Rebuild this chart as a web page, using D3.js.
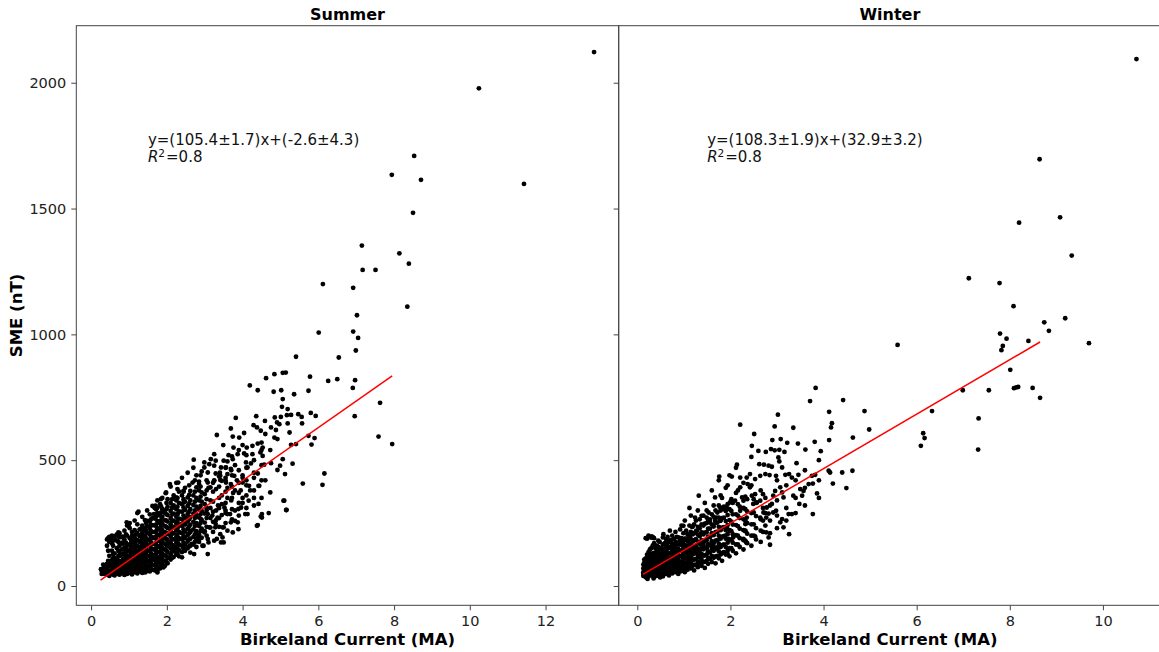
<!DOCTYPE html>
<html>
<head>
<meta charset="utf-8">
<script src="https://cdnjs.cloudflare.com/ajax/libs/d3/7.8.5/d3.min.js"></script>
<style>
body { margin: 0; background: #fff; }
text { font-family: "DejaVu Sans", sans-serif; }
</style>
</head>
<body>
<div id="chart"></div>
<script>
// ---- data ----
const seasons = ["Summer", "Winter"];

// scattered points [current (MA), SME (nT)]
const summerScatter = [
  [13.28,2122],[10.24,1978],[11.43,1598],[8.53,1709],[8.71,1614],[7.94,1634],[8.50,1483],[8.14,1322],[8.39,1281],[7.15,1353],
  [7.17,1256],[7.51,1256],[6.92,1185],[6.12,1200],[8.35,1110],[7.02,1076],[6.92,1011],[7.05,986],[6.99,936],[6.54,908],
  [6.50,822],[6.97,818],[6.91,787],[7.63,728],[6.96,675],[7.59,594],[7.95,564],
  [6.01,1007],[5.41,911],[4.62,826],[4.84,842],[5.06,847],[5.14,848],[5.78,832],[6.26,815],[4.19,797],[4.40,778],[4.82,772],
  [5.02,778],[5.36,762],[5.74,776],[5.06,743],[5.04,712],[5.19,703],[3.82,668],[4.36,675],[4.59,656],[4.85,670],[5.01,672],
  [5.17,679],[5.28,680],[5.47,683],[5.56,672],[5.80,688],[5.93,676],[3.69,626],[4.29,639],[4.38,630],[4.75,630],[4.91,650],
  [4.97,643],[5.19,646],[5.57,646],[3.32,600],[3.74,594],[3.91,590],[4.04,608],[4.48,617],[4.60,604],[4.88,620],[4.84,590],
  [4.92,584],[5.24,610],[5.74,597],[5.90,588],[5.41,564],[5.82,562],[3.49,560],[3.76,550],[4.00,560],[4.11,550],[4.26,557],
  [4.40,566],[4.50,570],[4.53,550],[5.28,561],[3.25,524],[3.63,520],[3.87,524],[4.04,527],[4.26,524],[4.47,531],[4.53,517],
  [4.73,540],[2.71,502],[2.99,491],[3.16,504],[3.29,498],[3.50,498],[3.74,504],[4.09,491],[4.22,487],[4.57,482],[4.75,488],
  [4.99,478],[5.06,504],[5.32,486],[2.99,471],[3.12,484],[3.25,478],[3.43,471],[3.56,471],[3.69,465],[4.13,471],[4.40,447],
  [4.92,461],[5.12,445],[3.08,451],[3.29,447],[3.41,438],[3.60,445],[3.78,438],[6.16,447],[5.59,407],[6.11,402],[2.68,411],
  [2.85,405],[3.08,411],[3.25,418],[3.41,421],[3.56,411],[3.69,405],[4.00,411],[4.17,398],[4.44,398],
  [4.40,242],[4.69,290],[4.48,276],[5.16,302],[5.10,339],[4.13,286],[3.96,312],[3.87,253],[3.69,253],[3.74,213],[3.47,193],
  [3.43,173],[3.25,180],[3.08,187],[2.94,160],[3.47,233],[3.60,286],[3.52,312],[3.34,272],[3.29,246],[3.12,233],[2.99,213],
  [2.81,193],[2.77,246],[2.90,266],[3.08,286],[2.72,286],[2.63,220],[2.46,193],[2.28,180],[2.19,153],[2.02,167],[1.84,140],
  [1.66,114],[1.58,87],[1.75,61],[2.72,127],[3.08,127],[2.44,332],[2.08,405],[2.30,411],[1.98,372],[2.24,352],[2.44,378],
  [1.84,345],[1.71,312],[1.66,286],[1.93,299],[2.15,312],[2.28,286],[2.50,272],[1.49,259],[1.84,246],[2.11,233],[2.37,246],
  [1.40,220],[1.66,193],[1.93,193],[1.45,173],[1.31,140],
  [1.97,369],[1.70,319],[1.74,310],[1.25,295],[0.94,253],[0.99,239],[0.72,213],[0.26,67],[0.33,54],[1.43,54],[1.75,54],
  [1.87,100],[1.91,74],[2.09,114],[2.26,133],[2.44,153],[2.62,133],[2.40,114],[2.66,167],[2.97,160],[3.10,173],[3.32,187],
  [3.50,173],[3.41,206],[3.28,233],[3.50,233],[3.89,226],[3.80,259],[3.67,286],[4.07,286],[3.89,306],[4.16,339],[4.38,239],
  [4.51,272],[4.51,286],[4.73,372],[4.42,326],[4.42,398],[5.08,339],[5.15,302],
  [3.05,300],[3.15,340],[3.20,280],[3.35,320],[3.45,360],[3.55,300],[3.60,390],[3.70,340],[3.75,370],[3.95,380],[4.00,350],
  [4.10,400],[4.20,380],[4.30,350],[3.10,390],[3.25,420],[3.40,450],[3.55,430],[3.70,460],[3.85,420],[4.00,440],[4.30,430],[4.60,420]
];

// dense core, one current value with the SME values stacked on it
const summerColumns = [
  [0.28,[60,48]],[0.35,[48,62,75,58]],[0.42,[45,70,88,52,160,185]],[0.48,[40,58,80,96,120,175,195]],
  [0.55,[50,66,84,102,140,190,200,170]],[0.62,[42,60,78,95,112,130,188,198]],[0.68,[55,70,88,105,150,180,205]],
  [0.75,[45,62,80,98,118,135,160,193,210]],[0.82,[50,68,86,100,125,145,172,196]],[0.88,[44,60,76,92,110,130,150,185,220]],
  [0.95,[48,65,82,100,118,138,160,200,240]],[1.02,[52,70,88,105,122,142,165,190,230,250]],
  [1.08,[46,62,80,96,115,135,155,178,200,215]],[1.15,[55,72,90,108,126,148,170,192,222,260]],
  [1.22,[50,66,84,102,120,140,160,182,210,245,290]],[1.28,[58,75,92,110,130,152,175,198,225]],
  [1.35,[52,70,88,106,124,145,168,190,212,240,275]],[1.42,[56,74,94,114,134,156,178,200,230,262]],
  [1.48,[60,80,100,120,140,162,185,210,238,300]],[1.55,[58,76,96,116,138,160,182,205,228,255,285]],
  [1.62,[65,85,105,125,146,168,190,215,242,270,318]],[1.68,[62,82,102,122,144,166,190,214,240,268,310]],
  [1.75,[75,95,115,136,158,180,204,230,258,290,340]],[1.82,[70,90,110,132,155,178,200,225,250,280,325]],
  [1.88,[88,108,130,152,175,198,222,248,275,305,350]],[1.95,[80,100,122,145,168,190,214,238,262,290]],
  [2.02,[90,112,135,158,182,206,230,256,282,315,345]],[2.10,[105,126,150,172,196,220,245,270,298,330,395]],
  [2.18,[115,138,160,185,210,235,260,288,320,360]],[2.25,[125,148,172,196,222,248,275,305,340,410]],
  [2.32,[118,142,165,190,215,240,268,296,330,375]],[2.40,[135,160,185,210,238,265,295,325,360,430]],
  [2.48,[140,165,190,216,244,272,302,335,390]],[2.55,[150,176,202,228,256,286,318,352,450]],
  [2.62,[160,188,215,244,274,305,340,378]],[2.70,[165,195,225,255,288,322,360,470]],
  [2.78,[155,185,218,250,282,315,350,392,440]],[2.85,[175,205,238,272,305,340,380,415]],
  [2.92,[192,228,262,298,335,372,455]],[3.00,[218,252,288,325,365]],[3.15,[232,270,310,392]],
  [3.30,[262,300,385]],[3.45,[282,325,418]],[3.60,[220,350,495]],[3.80,[300,380,480]],[4.00,[330,430]],
  [0.32,[70,85,52]],[0.45,[62,78,100,140,190]],[0.58,[45,58,74,92,110,125,160,180]],[0.72,[48,65,82,100,120,140,175,198]],
  [0.85,[55,72,90,108,128,148,168,192]],[0.92,[54,70,88,106,124,145,172,205]],
  [1.05,[60,78,96,113,132,150,170,185]],[1.18,[63,80,98,117,137,158,180,205]],[1.32,[62,80,98,116,135,157,180,202,228]],
  [1.45,[66,86,105,125,146,168,190,220,250]],[1.58,[68,88,108,128,150,172,195,218,240,265]],
  [1.72,[70,90,110,130,150,172,195,218,245,275,305]],[1.85,[80,100,122,142,165,188,212,238,262,292,315]],
  [1.99,[95,118,140,163,186,210,235,260,285,305,330]],[2.14,[112,138,162,186,208,232,258,284,312,345]],
  [2.28,[130,155,180,205,230,258,285,315,350,385]],[2.44,[148,172,198,225,252,280,312,345,375]],
  [2.59,[158,185,210,238,265,295,328,362,400]],[2.74,[175,205,238,270,300,335,375,420]],
  [2.89,[190,218,250,285,318,355,395,440]],[3.05,[200,235,270,310,345,380,420]],[3.22,[215,255,295,335,375,410]],
  [3.38,[235,270,310,350,395,435]],[3.55,[250,290,330,375,420,470]],[3.72,[265,305,350,395,440,515]],
  [3.90,[280,330,370,410,460,540]],[4.10,[310,360,420,470,520]],[4.30,[320,380,450,500]],[4.50,[350,420,480,540]]
];

const winterScatter = [
  [10.72,2094],[8.64,1696],[8.20,1444],[9.08,1465],[9.33,1313],[7.12,1223],[7.78,1204],[8.08,1112],[8.74,1048],[8.84,1014],
  [9.19,1064],[7.79,1003],[7.93,983],[8.40,974],[7.85,954],[7.82,937],[9.70,965],[5.59,958],[8.01,859],[6.99,778],[7.55,778],
  [8.09,786],[8.14,789],[8.18,791],[8.49,787],[8.65,748],[4.42,739],[4.12,692],[4.88,695],[6.33,695],[7.33,666],[7.32,542],
  [6.14,607],[6.17,588],[6.09,557],
  [3.83,787],[3.71,735],[3.02,681],[2.95,634],[3.35,629],[4.18,647],[4.16,630],[4.98,622],[4.12,580],[4.63,590],[3.81,573],
  [3.94,536],[3.61,542],[3.45,566],[3.22,569],[3.08,584],[2.90,580],[2.51,604],[2.46,557],[2.21,641],[2.95,539],[3.05,541],
  [3.16,533],[2.60,537],[2.76,533],[2.45,513],[2.87,544],[3.03,511],[3.05,495],[3.42,488],[3.26,445],[3.11,471],[3.18,442],
  [2.62,484],[2.72,482],[2.82,478],[2.89,474],[2.35,431],[2.42,445],[2.53,425],[2.37,405],[2.64,438],[2.75,445],[2.84,441],
  [2.98,438],[3.32,431],[3.46,442],[3.75,438],[3.82,442],[4.11,458],[4.14,451],[4.40,451],[4.62,458],[4.20,407],[4.49,389],
  [3.68,405],[3.77,407],[3.50,385],[3.57,378],[3.54,359],[3.86,368],[3.35,359],[3.48,326],[3.77,286],[3.07,392],[3.11,372],
  [3.14,352],[2.96,378],[2.92,359],[2.89,326],[2.98,299],[2.92,292],[3.11,266],[3.07,253],[3.25,286],[3.32,286],[3.14,233],
  [3.26,206],[2.78,312],[2.82,288],[2.77,272],[2.64,339],[2.57,332],[2.49,326],[2.71,292],[2.64,272],[2.77,213],[2.82,193],
  [2.85,164],[2.53,197],[2.32,220],[2.28,187],[2.34,173],[2.42,392],[2.46,359],[2.53,365],[2.25,352],[2.28,339],[2.21,392],
  [2.35,272],[2.32,246],[2.21,431],[2.21,299],
  [1.76,435],[2.03,435],[2.14,482],[1.32,359],[1.67,352],[1.12,310],[0.99,239],[1.17,235],[1.24,272],[1.38,279],[1.53,292],
  [1.49,272],[0.70,220],[0.56,206],[0.55,193],[0.24,200],[0.31,197],[0.34,193],[0.88,193],[0.92,180],[1.10,206],[1.13,193],
  [1.28,220],[1.38,213],[1.56,253],[1.67,259],[1.78,312],[1.85,306],[1.92,312],[1.99,332],[2.10,339],[1.70,272],[1.78,259],
  [1.92,233],[1.99,220],[1.89,200],[1.96,187],[2.06,193],[1.85,134],[1.94,127],[1.71,153],[1.63,160],[1.42,167],[1.49,153],
  [1.24,140],[1.35,127],[1.06,153],[1.13,127],[0.99,127],[0.85,127],[0.77,100],[0.92,94],[0.70,94],[0.63,74],[0.56,54],
  [0.49,34],[0.34,41],[0.20,34],[0.13,48],[0.17,74],[0.27,100],[0.42,120],[0.56,140],[0.67,153],[0.77,160],[0.88,167],
  [0.22,28],[0.35,30]
];

const winterColumns = [
  [0.13,[40,55,70,85]],[0.18,[35,50,65,80,95,110,190]],[0.24,[38,52,68,84,100,118,135,195]],
  [0.30,[42,58,74,90,106,124,150,192]],[0.36,[36,50,66,82,98,114,132,170,190]],[0.42,[40,56,72,88,104,122,140,160]],
  [0.48,[45,60,76,92,108,126,146,175]],[0.55,[38,54,70,86,102,120,140,165]],[0.62,[48,64,80,96,114,134,155,185]],
  [0.68,[42,58,75,92,110,130,152,178]],[0.75,[50,66,84,102,122,144,168,200]],[0.82,[55,72,90,108,128,150,175,215]],
  [0.88,[48,65,84,104,125,148,172]],[0.95,[60,78,97,118,140,164,190,240]],[1.02,[55,74,94,115,138,162,188,260]],
  [1.08,[65,85,106,128,152,178,205]],[1.15,[70,90,112,135,160,186,215,280]],[1.22,[62,84,106,130,155,182,210,245]],
  [1.30,[75,98,122,148,175,204,235,300]],[1.38,[80,104,128,154,182,212,245]],[1.45,[72,96,122,150,180,212,248,330]],
  [1.52,[88,112,138,166,196,228,262]],[1.60,[95,120,148,178,210,244,285,380]],[1.68,[90,118,148,180,214,250,300]],
  [1.75,[110,138,168,200,235,272,320,420]],[1.82,[100,130,162,196,232,270,350]],[1.90,[125,155,188,222,258,298,390]],
  [1.98,[118,150,185,222,262,305,440]],[2.05,[140,172,206,244,285,330]],[2.12,[130,165,202,242,285,370,470]],
  [2.20,[155,190,228,270,315]],[2.28,[145,182,222,265,310,410]],[2.36,[170,208,250,296,345]],[2.45,[160,200,245,290,400]],
  [2.55,[185,230,278,330]],[2.65,[175,220,265,380]],[2.75,[240,290,350]],[2.85,[210,260,320]],[3.00,[230,280,340,420]],
  [3.20,[260,310,400]],[3.40,[290,350,420]],[3.60,[320,390,460]],[3.90,[350,420,500]],
  [0.15,[45,60,75,92,105]],[0.21,[42,58,74,90,108,125,188]],[0.27,[45,60,76,92,110,128,145]],
  [0.33,[48,63,80,96,112,130,160]],[0.39,[44,60,76,93,110,128,150]],[0.45,[50,66,82,98,116,134,155,180]],
  [0.52,[44,60,76,93,112,130,152]],[0.59,[52,68,84,102,122,145,170]],[0.65,[56,72,88,106,126,148,170,195]],
  [0.72,[55,72,90,110,132,156,182]],[0.79,[60,78,96,116,138,160,188]],[0.85,[62,80,100,120,142,165,195]],
  [0.92,[58,76,96,118,140,165,190,225]],[0.99,[68,88,108,130,152,178,210]],[1.05,[70,90,112,135,160,188,220]],
  [1.12,[75,96,118,142,168,196,240]],[1.19,[80,102,125,150,176,205,235]],[1.26,[85,108,132,158,186,218,260]],
  [1.34,[90,114,140,168,198,230,265]],[1.42,[95,120,146,175,205,240,280]],[1.49,[100,126,152,182,214,250,300]],
  [1.56,[108,134,162,194,228,265]],[1.64,[112,140,170,202,236,275,320]],[1.72,[120,150,182,216,252,292]],
  [1.79,[125,155,188,222,260,300,360]],[1.86,[135,165,198,234,272,315]],[1.94,[140,172,206,242,282,325,400]],
  [2.02,[150,182,218,256,298,345]],[2.16,[165,200,238,280,325,380]],[2.32,[180,218,260,305,355]],
  [2.50,[200,245,292,345]],[2.70,[215,260,310,365]]
];

// linear fits
const fitSlopes = [105.4, 108.3];
const fitIntercepts = [-2.6, 32.9];
const fitRanges = [[0.25, 7.95], [0.12, 8.65]];
const fitLabels = ["y=(105.4\u00b11.7)x+(-2.6\u00b14.3)", "y=(108.3\u00b11.9)x+(32.9\u00b13.2)"];
const r2Labels = ["0.8", "0.8"];
const labelAt = [[1.5, 1685], [1.5, 1685]];

// ticks
const xTicks = [[0, 2, 4, 6, 8, 10, 12], [0, 2, 4, 6, 8, 10]];
const yTicks = [0, 500, 1000, 1500, 2000];

// ---- layout ----
const width = 1159, height = 652;
const plotTop = 25.7, plotH = 579.6, plotW = 542.4;
const panelX = [76.3, 618.7];

const panels = [
  summerScatter.concat(summerColumns.flatMap(([x, ys]) => ys.map(y => [x, y]))),
  winterScatter.concat(winterColumns.flatMap(([x, ys]) => ys.map(y => [x, y])))
];

// matplotlib-like 5% margins
function padded(ext) {
  const p = (ext[1] - ext[0]) * 0.05;
  return [ext[0] - p, ext[1] + p];
}

const yScale = d3.scaleLinear()
  .domain(padded(d3.extent(panels.flat(), d => d[1])))
  .range([plotTop + plotH, plotTop]);

const svg = d3.select("#chart")
  .append("svg")
  .attr("width", width)
  .attr("height", height)
  .style("background", "#fff");

panels.forEach((pts, i) => {
  const x0 = panelX[i];
  const xScale = d3.scaleLinear()
    .domain(padded(d3.extent(pts, d => d[0])))
    .range([x0, x0 + plotW]);

  const g = svg.append("g");

  // points
  g.append("g")
    .selectAll("circle")
    .data(pts)
    .enter()
    .append("circle")
    .attr("cx", d => xScale(d[0]))
    .attr("cy", d => yScale(d[1]))
    .attr("r", 2.4)
    .attr("fill", "#000");

  // fit line
  const line = d3.line().x(d => xScale(d)).y(d => yScale(fitSlopes[i] * d + fitIntercepts[i]));
  g.append("path")
    .attr("d", line(fitRanges[i]))
    .attr("fill", "none")
    .attr("stroke", "red")
    .attr("stroke-width", 1.5);

  // spines
  g.append("rect")
    .attr("x", x0)
    .attr("y", plotTop)
    .attr("width", plotW)
    .attr("height", plotH)
    .attr("fill", "none")
    .attr("stroke", "#444")
    .attr("stroke-width", 1);

  // x axis
  const xa = g.append("g")
    .attr("transform", `translate(0,${plotTop + plotH})`)
    .call(d3.axisBottom(xScale).tickValues(xTicks[i]).tickFormat(d3.format("d")).tickSize(5).tickPadding(5));
  xa.select(".domain").remove();

  // y axis (labels only on the first panel)
  const ya = g.append("g")
    .attr("transform", `translate(${x0},0)`)
    .call(d3.axisLeft(yScale).tickValues(yTicks).tickSize(5).tickPadding(5)
      .tickFormat(i === 0 ? d3.format("d") : () => ""));
  ya.select(".domain").remove();

  g.selectAll(".tick line").attr("stroke", "#444");
  g.selectAll(".tick text")
    .attr("fill", "#222")
    .style("font-size", "14.5px")
    .style("font-family", "DejaVu Sans, sans-serif");

  // title
  g.append("text")
    .attr("x", x0 + plotW / 2)
    .attr("y", 20)
    .attr("text-anchor", "middle")
    .style("font-size", "16px")
    .style("font-weight", "bold")
    .text(seasons[i]);

  // x label
  g.append("text")
    .attr("x", x0 + plotW / 2)
    .attr("y", 645)
    .attr("text-anchor", "middle")
    .style("font-size", "16.5px")
    .style("font-weight", "bold")
    .text("Birkeland Current (MA)");

  // fit annotation
  const ax = xScale(labelAt[i][0]), ay = yScale(labelAt[i][1]);
  g.append("text")
    .attr("x", ax)
    .attr("y", ay - 17.5)
    .style("font-size", "15px")
    .attr("fill", "#111")
    .text(fitLabels[i]);
  const r2 = g.append("text")
    .attr("x", ax)
    .attr("y", ay)
    .style("font-size", "15px")
    .attr("fill", "#111");
  r2.append("tspan").style("font-style", "italic").text("R");
  r2.append("tspan").attr("dy", -5).style("font-size", "10.5px").text("2");
  r2.append("tspan").attr("dy", 5).attr("dx", 1).text("=" + r2Labels[i]);
});

// y label
svg.append("text")
  .attr("transform", `translate(22,${plotTop + plotH / 2}) rotate(-90)`)
  .attr("text-anchor", "middle")
  .style("font-size", "16.5px")
  .style("font-weight", "bold")
  .text("SME (nT)");
</script>
</body>
</html>
